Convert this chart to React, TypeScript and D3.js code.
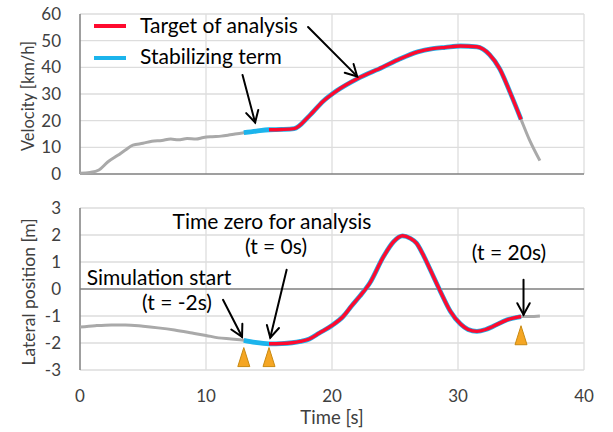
import React from "react";
import * as d3 from "d3";

// ---- data ----
const velTime = [0, 0.8, 1.5, 2.2, 3, 3.6, 4.2, 5, 5.7, 6.5, 7.2, 7.8, 8.5, 9.2, 9.8, 10.5, 11.2, 11.8, 12.3, 13, 14, 15, 16, 17, 18.2, 19.3, 20.4, 22, 24, 25.4, 26.8, 28, 29, 30.2, 31.5, 32.5, 33.3, 34.1, 35, 35.7, 36.5];
const velValue = [0.3, 0.6, 1.5, 4.5, 7, 9, 10.8, 11.5, 12.3, 12.6, 13.1, 12.8, 13.3, 13.1, 13.7, 14, 14.2, 14.6, 15, 15.5, 16.1, 16.6, 16.7, 17, 21.8, 27.3, 31.3, 35.7, 40, 43.2, 45.8, 47, 47.5, 48, 47.7, 44.8, 39.5, 31, 20.5, 12.5, 5];

const latTime = [0, 1.2, 2.5, 3.6, 5, 6.2, 7.5, 8.9, 10, 11, 12, 13, 13.9, 15, 16, 17.5, 18.2, 19, 20, 20.9, 21.6, 22.2, 23, 24.1, 24.9, 25.6, 26.2, 26.7, 27.2, 27.8, 28.6, 29.4, 30.2, 30.8, 31.5, 32.2, 32.8, 33.9, 35, 35.7, 36.5];
const latValue = [-1.41, -1.36, -1.33, -1.33, -1.38, -1.44, -1.52, -1.63, -1.72, -1.81, -1.85, -1.9, -1.98, -2.03, -2.02, -1.94, -1.85, -1.63, -1.35, -1.01, -0.6, -0.27, 0.22, 1.21, 1.76, 1.97, 1.88, 1.7, 1.3, 0.71, -0.09, -0.83, -1.3, -1.5, -1.57, -1.5, -1.38, -1.14, -1.02, -1.02, -1.0];

const stabilizingRange = [13, 35];
const targetRange = [15, 35];

const xTicks = [0, 10, 20, 30, 40];
const velTicks = [0, 10, 20, 30, 40, 50, 60];
const latTicks = [-3, -2, -1, 0, 1, 2, 3];

const markerTimes = [13, 15, 35];
const markerTips = [-2.17, -2.17, -1.36];

const legendLabels = ["Target of analysis", "Stabilizing term"];

// ---- layout ----
const W = 613, H = 432;
const left = 80, right = 584;
const topT = 14, topB = 174;
const botT = 208, botB = 370;

const x = d3.scaleLinear().domain([0, 40]).range([left, right]);
const yV = d3.scaleLinear().domain([0, 60]).range([topB, topT]);
const yL = d3.scaleLinear().domain([-3, 3]).range([botB, botT]);

const RED = "#FF0A2E";
const BLUE = "#1CB4EC";
const GRAY = "#A9A9A9";
const GRID = "#DDDDDD";
const AXIS = "#7F7F7F";
const FONT = "Lato, 'Open Sans', sans-serif";

function seg(ts: number[], vs: number[], r: number[] | null) {
  const pts: [number, number][] = [];
  ts.forEach((t, i) => {
    if (!r || (t >= r[0] - 1e-9 && t <= r[1] + 1e-9)) pts.push([t, vs[i]]);
  });
  return pts;
}

function Arrow({ x1, y1, x2, y2 }: { x1: number; y1: number; x2: number; y2: number }) {
  const ang = Math.atan2(y2 - y1, x2 - x1);
  const L = 13, a = 0.5;
  const p1 = [x2 - L * Math.cos(ang - a), y2 - L * Math.sin(ang - a)];
  const p2 = [x2 - L * Math.cos(ang + a), y2 - L * Math.sin(ang + a)];
  return (
    <g stroke="#000" strokeWidth={2} fill="none" strokeLinecap="round">
      <line x1={x1} y1={y1} x2={x2} y2={y2} />
      <polyline points={`${p1[0]},${p1[1]} ${x2},${y2} ${p2[0]},${p2[1]}`} />
    </g>
  );
}

export default function App() {
  const lineV = d3.line<[number, number]>().x(d => x(d[0])).y(d => yV(d[1])).curve(d3.curveMonotoneX);
  const lineL = d3.line<[number, number]>().x(d => x(d[0])).y(d => yL(d[1])).curve(d3.curveMonotoneX);

  return (
    <svg width={W} height={H} style={{ position: "absolute", left: 0, top: 0, background: "#fff" }} fontFamily={FONT}>
      <rect width={W} height={H} fill="#fff" />
      {/* ---- top chart ---- */}
      {velTicks.filter(v => v > 0).map(v => (
        <line key={"vg" + v} x1={left} x2={right} y1={yV(v)} y2={yV(v)} stroke={GRID} strokeWidth={1.3} />
      ))}
      {xTicks.filter(t => t > 0).map(t => (
        <line key={"vx" + t} x1={x(t)} x2={x(t)} y1={topT} y2={topB} stroke={GRID} strokeWidth={1.3} />
      ))}
      <line x1={left} x2={right} y1={topB} y2={topB} stroke={AXIS} strokeWidth={1.5} />
      <line x1={left} x2={left} y1={topT} y2={topB} stroke={AXIS} strokeWidth={1.5} />
      {velTicks.map(v => (
        <text key={"vt" + v} x={61} y={yV(v)} dy="0.35em" textAnchor="end" fontSize={17} fill="#404040">{v}</text>
      ))}
      <text transform={`translate(28,${(topT + topB) / 2 + 2}) rotate(-90)`} textAnchor="middle" dy="0.35em" fontSize={16.5} fill="#404040">Velocity [km/h]</text>

      <path d={lineV(seg(velTime, velValue, null)) || ""} fill="none" stroke={GRAY} strokeWidth={3} />
      <path d={lineV(seg(velTime, velValue, stabilizingRange)) || ""} fill="none" stroke={BLUE} strokeWidth={4.8} />
      <path d={lineV(seg(velTime, velValue, targetRange)) || ""} fill="none" stroke={RED} strokeWidth={3.4} />

      {/* legend */}
      <line x1={94} x2={126} y1={26} y2={26} stroke={RED} strokeWidth={4} />
      <text x={140} y={26} dy="0.35em" fontSize={21} fill="#000">{legendLabels[0]}</text>
      <line x1={94} x2={126} y1={58} y2={58} stroke={BLUE} strokeWidth={4} />
      <text x={140} y={57} dy="0.35em" fontSize={21} fill="#000">{legendLabels[1]}</text>

      <Arrow x1={x(18.1)} y1={yV(55.1)} x2={x(22.0)} y2={yV(36.6)} />
      <Arrow x1={x(12.9)} y1={yV(37.1)} x2={x(13.9)} y2={yV(19.3)} />

      {/* ---- bottom chart ---- */}
      {latTicks.filter(v => v !== 0).map(v => (
        <line key={"lg" + v} x1={left} x2={right} y1={yL(v)} y2={yL(v)} stroke={GRID} strokeWidth={1.3} />
      ))}
      {xTicks.filter(t => t > 0).map(t => (
        <line key={"lx" + t} x1={x(t)} x2={x(t)} y1={botT} y2={botB} stroke={GRID} strokeWidth={1.3} />
      ))}
      <line x1={left} x2={right} y1={yL(0)} y2={yL(0)} stroke={AXIS} strokeWidth={1.5} />
      <line x1={left} x2={left} y1={botT} y2={botB} stroke={AXIS} strokeWidth={1.5} />
      {latTicks.map(v => (
        <text key={"lt" + v} x={61} y={yL(v)} dy="0.35em" textAnchor="end" fontSize={17} fill="#404040">{v}</text>
      ))}
      <text transform={`translate(29,${(botT + botB) / 2 + 3}) rotate(-90)`} textAnchor="middle" dy="0.35em" fontSize={17.5} fill="#404040">Lateral position [m]</text>
      {xTicks.map(t => (
        <text key={"xt" + t} x={x(t)} y={396} dy="0.35em" textAnchor="middle" fontSize={17} fill="#404040">{t}</text>
      ))}
      <text x={332} y={418} dy="0.35em" textAnchor="middle" fontSize={18.5} fill="#404040">Time [s]</text>

      <path d={lineL(seg(latTime, latValue, null)) || ""} fill="none" stroke={GRAY} strokeWidth={3} />
      <path d={lineL(seg(latTime, latValue, stabilizingRange)) || ""} fill="none" stroke={BLUE} strokeWidth={4.8} />
      <path d={lineL(seg(latTime, latValue, targetRange)) || ""} fill="none" stroke={RED} strokeWidth={3.4} />

      {markerTimes.map((t, i) => {
        const cx = x(t), ty = yL(markerTips[i]);
        return (
          <polygon key={"m" + i} points={`${cx},${ty} ${cx - 6},${ty + 19} ${cx + 6},${ty + 19}`} fill="#F5A623" stroke="#C98A12" strokeWidth={1} />
        );
      })}

      <text x={272} y={222} dy="0.35em" textAnchor="middle" fontSize={21} fill="#000">Time zero for analysis</text>
      <text x={276} y={247} dy="0.35em" textAnchor="middle" fontSize={21} fill="#000">(t = 0s)</text>
      <text x={159} y={278} dy="0.35em" textAnchor="middle" fontSize={21} fill="#000">Simulation start</text>
      <text x={177} y={303} dy="0.35em" textAnchor="middle" fontSize={21} fill="#000">(t = -2s)</text>
      <text x={509} y={253} dy="0.35em" textAnchor="middle" fontSize={21} fill="#000">(t = 20s)</text>

      <Arrow x1={x(11.35)} y1={yL(-0.4)} x2={x(12.86)} y2={yL(-1.77)} />
      <Arrow x1={x(16.4)} y1={yL(0.71)} x2={x(15.1)} y2={yL(-1.8)} />
      <Arrow x1={x(35.2)} y1={yL(0.34)} x2={x(35.2)} y2={yL(-0.95)} />
    </svg>
  );
}
